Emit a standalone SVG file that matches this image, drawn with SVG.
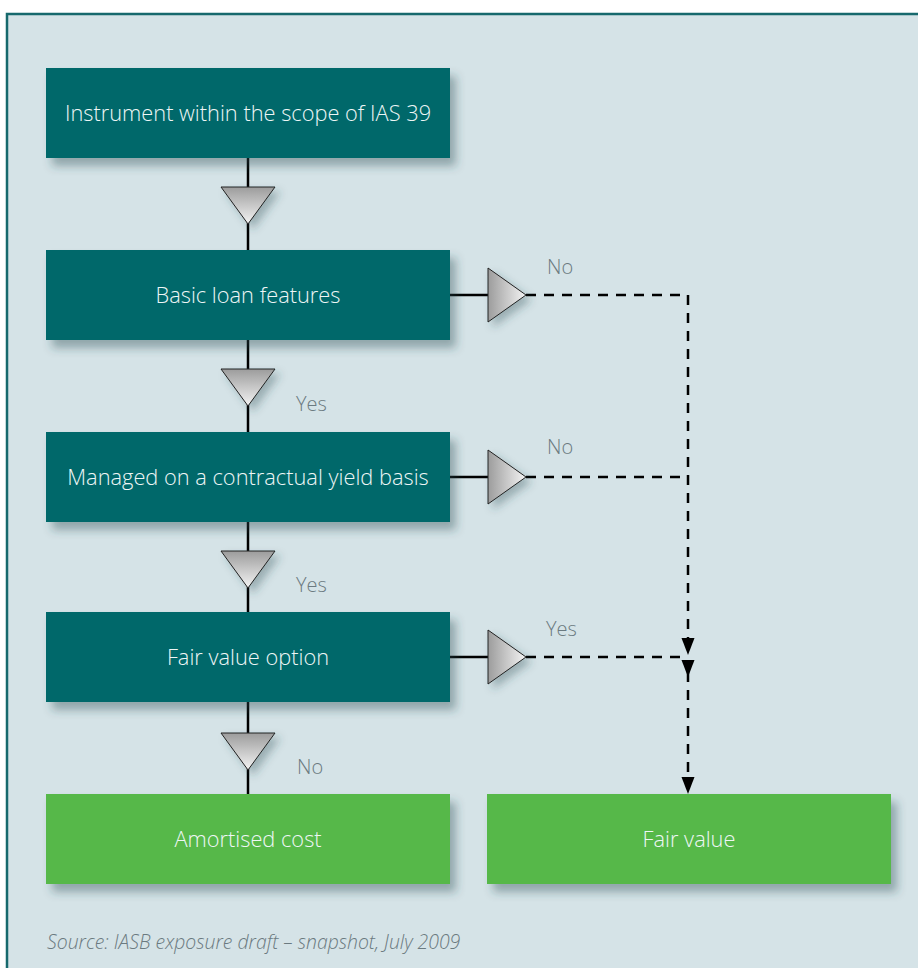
<svg xmlns="http://www.w3.org/2000/svg" width="918" height="968" viewBox="0 0 918 968">
<defs>
<style>
.bg{fill:#d5e3e7;stroke:#17696d;stroke-width:2.5}
.teal{fill:#00676a}
.green{fill:#56b84a}
.bt{font-family:"Open Sans","Liberation Sans",sans-serif;font-weight:300;font-size:21.8px;fill:#eef6f6;text-anchor:middle}
.lbl{font-family:"Open Sans","Liberation Sans",sans-serif;font-weight:300;font-size:20px;fill:#6b7a80}
.src{font-family:"Open Sans","Liberation Sans",sans-serif;font-style:italic;font-weight:300;font-size:19.4px;fill:#6b7a80}
.ln{stroke:#000;stroke-width:2.5;fill:none}
.dash{stroke:#000;stroke-width:2.5;fill:none;stroke-dasharray:10 8}
.tv{fill:url(#gv);stroke:#222;stroke-width:1}
.th{fill:url(#gh);stroke:#222;stroke-width:1}
</style>
<linearGradient id="gv" x1="0" y1="0" x2="0" y2="1"><stop offset="0" stop-color="#9c9c9c"/><stop offset="1" stop-color="#f4f4f4"/></linearGradient>
<linearGradient id="gh" x1="0" y1="0" x2="1" y2="0"><stop offset="0" stop-color="#9c9c9c"/><stop offset="1" stop-color="#f4f4f4"/></linearGradient>
<filter id="sh" x="-10%" y="-20%" width="130%" height="160%"><feDropShadow dx="6" dy="8" stdDeviation="5" flood-color="#2a4a50" flood-opacity="0.4"/></filter>
<filter id="sht" x="-30%" y="-30%" width="170%" height="170%"><feDropShadow dx="5" dy="5" stdDeviation="4" flood-color="#2a4a50" flood-opacity="0.35"/></filter>
</defs>
<rect class="bg" x="7" y="14" width="916" height="960"/>
<g id="connectors">
<line class="ln" x1="248" y1="158" x2="248" y2="250"/>
<line class="ln" x1="248" y1="340" x2="248" y2="432"/>
<line class="ln" x1="248" y1="522" x2="248" y2="612"/>
<line class="ln" x1="248" y1="702" x2="248" y2="794"/>
<line class="ln" x1="450" y1="295" x2="488" y2="295"/>
<line class="ln" x1="450" y1="477" x2="488" y2="477"/>
<line class="ln" x1="450" y1="657" x2="488" y2="657"/>
<polyline class="dash" points="526,295 688,295 688,640"/>
<line class="dash" x1="526" y1="477" x2="688" y2="477"/>
<line class="dash" x1="526" y1="657" x2="688" y2="657"/>
<line class="dash" x1="688" y1="672" x2="688" y2="780"/>
<polygon points="681.5,638 694.5,638 688,655" fill="#000"/>
<polygon points="681.5,660 694.5,660 688,677" fill="#000"/>
<polygon points="681.5,777 694.5,777 688,794" fill="#000"/>
<g filter="url(#sht)">
<polygon class="tv" points="221,187 275,187 248,224"/>
<polygon class="tv" points="221,369 275,369 248,406"/>
<polygon class="tv" points="221,551 275,551 248,588"/>
<polygon class="tv" points="221,733 275,733 248,770"/>
<polygon class="th" points="488,268 488,322 526,295"/>
<polygon class="th" points="488,450 488,504 526,477"/>
<polygon class="th" points="488,630 488,684 526,657"/>
</g>
<text class="lbl" x="547" y="274">No</text>
<text class="lbl" x="296" y="411">Yes</text>
<text class="lbl" x="547" y="454">No</text>
<text class="lbl" x="296" y="592">Yes</text>
<text class="lbl" x="546" y="636">Yes</text>
<text class="lbl" x="297" y="774">No</text>
</g>
<g id="n1"><rect class="teal" x="46" y="68" width="404" height="90" filter="url(#sh)"/><text class="bt" x="248" y="121">Instrument within the scope of IAS 39</text></g>
<g id="n2"><rect class="teal" x="46" y="250" width="404" height="90" filter="url(#sh)"/><text class="bt" x="248" y="303">Basic loan features</text></g>
<g id="n3"><rect class="teal" x="46" y="432" width="404" height="90" filter="url(#sh)"/><text class="bt" x="248" y="485">Managed on a contractual yield basis</text></g>
<g id="n4"><rect class="teal" x="46" y="612" width="404" height="90" filter="url(#sh)"/><text class="bt" x="248" y="665">Fair value option</text></g>
<g id="n5"><rect class="green" x="46" y="794" width="404" height="90" filter="url(#sh)"/><text class="bt" x="248" y="847">Amortised cost</text></g>
<g id="n6"><rect class="green" x="487" y="794" width="404" height="90" filter="url(#sh)"/><text class="bt" x="689" y="847">Fair value</text></g>
<text class="src" x="47" y="949">Source: IASB exposure draft – snapshot, July 2009</text>
</svg>
